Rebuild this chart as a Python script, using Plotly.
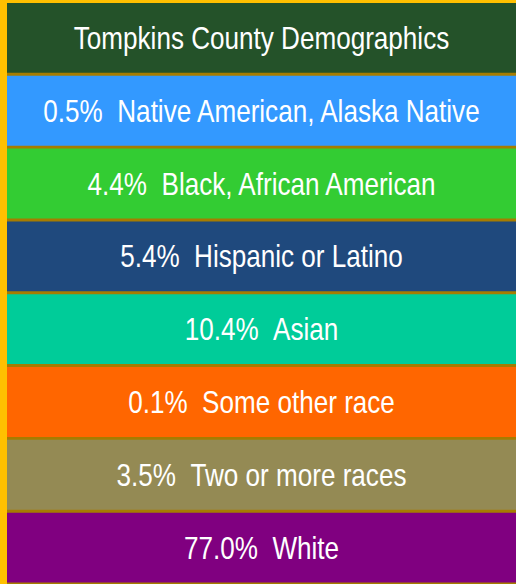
import plotly.graph_objects as go

title = "Tompkins County Demographics"
groups = ["Native American, Alaska Native", "Black, African American", "Hispanic or Latino",
          "Asian", "Some other race", "Two or more races", "White"]
percents = [0.5, 4.4, 5.4, 10.4, 0.1, 3.5, 77.0]
row_colors = ["#3399FF", "#33CC33", "#1F497D", "#00CC99", "#FF6600", "#948A54", "#800080"]
header_color = "#245229"
row_span = 100  # each row is a full-width band of the table

labels = [title] + [f"{p:.1f}%\u00a0\u00a0{g}" for p, g in zip(percents, groups)]
colors = [header_color] + row_colors
rows = list(range(len(labels)))

FONT = "Liberation Sans, Arial, sans-serif"
gap = 0.041

fig = go.Figure(go.Bar(
    y=rows, x=[row_span] * len(rows), orientation="h",
    marker=dict(color=colors, line=dict(width=0)),
    text=labels, textposition="inside", insidetextanchor="middle",
    textfont=dict(family=FONT, size=32, color="white"),
    constraintext="none", cliponaxis=False, hoverinfo="skip",
))
fig.update_layout(
    width=516, height=584, margin=dict(l=7, r=0, t=3, b=0),
    paper_bgcolor="#FFC000", plot_bgcolor="#A67C00",
    bargap=gap, showlegend=False,
    xaxis=dict(range=[0, row_span], visible=False, fixedrange=True),
    yaxis=dict(range=[len(rows) - 0.5, -0.5 + gap / 2], visible=False, fixedrange=True),
)

post = """
document.body.style.margin = '0';
document.querySelectorAll('.bartext').forEach(function (t) {
  var L = t.getComputedTextLength();
  t.setAttribute('textLength', (L * 0.815).toFixed(1));
  t.setAttribute('lengthAdjust', 'spacingAndGlyphs');
});
"""
fig.write_html("out.html", post_script=post, config={"displayModeBar": False})
